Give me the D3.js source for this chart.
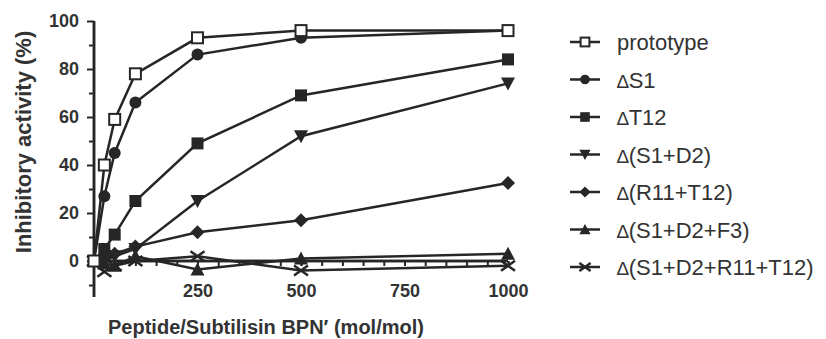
<!DOCTYPE html>
<html><head><meta charset="utf-8">
<script src="https://cdn.jsdelivr.net/npm/d3@7"></script>
<style>body{margin:0;background:#fff}svg{display:block}</style>
</head><body>
<svg id="c" width="826" height="339"></svg>
<script>
const xValues = [0, 25, 50, 100, 250, 500, 1000];
const seriesNames = ["prototype", "\u2206S1", "\u2206T12", "\u2206(S1+D2)", "\u2206(R11+T12)", "\u2206(S1+D2+F3)", "\u2206(S1+D2+R11+T12)"];
const prototype = [0, 40, 59, 78, 93, 96, 96];
const dS1 = [0, 27, 45, 66, 86, 93, 96];
const dT12 = [0, 5, 11, 25, 49, 69, 84];
const dS1D2 = [0, 0, 2, 5, 25, 52, 74];
const dR11T12 = [0, 1, 3, 6, 12, 17, 32.5];
const dS1D2F3 = [0, -1, -2, 2, -3.5, 1, 3];
const dS1D2R11T12 = [0, -4.5, -2, 0, 2, -4, -2];
const xTicks = [250, 500, 750, 1000];
const yTicks = [0, 20, 40, 60, 80, 100];
const markers = ["openSquare", "circle", "square", "triDown", "diamond", "triUp", "cross"];

const allSeries = [prototype, dS1, dT12, dS1D2, dR11T12, dS1D2F3, dS1D2R11T12];
const ink = "#262626";
const FONT = "Liberation Sans, Arial, sans-serif";
const svg = d3.select("#c");
const x = d3.scaleLinear().domain([0, 1000]).range([94, 508]);
const y = d3.scaleLinear().domain([-15, 100]).range([297, 21]);

// y axis
const yAxis = svg.append("g").attr("transform", "translate(94,0)");
yAxis.call(d3.axisLeft(y).tickValues(yTicks).tickSize(7).tickPadding(8));
yAxis.append("g").call(d3.axisLeft(y).tickValues(d3.range(-10, 100, 20)).tickSize(5).tickFormat(""));
yAxis.selectAll(".domain").attr("stroke", ink).attr("stroke-width", 2.5).attr("d", `M0,${y(-15)}V${y(100)}`);
yAxis.selectAll(".tick line").attr("stroke", ink).attr("stroke-width", 2);
yAxis.selectAll("text").attr("font-family", FONT).attr("font-weight", "bold").attr("font-size", 18).attr("fill", "#333");

// x axis at y=0
const xAxis = svg.append("g").attr("transform", `translate(0,${y(0)})`);
xAxis.append("g").call(d3.axisBottom(x).tickValues(d3.range(50, 1001, 50)).tickSize(5).tickFormat(""));
xAxis.append("g").call(d3.axisBottom(x).tickValues(xTicks).tickSize(5).tickPadding(18).tickFormat(d3.format("d")));
xAxis.selectAll(".domain").attr("stroke", ink).attr("stroke-width", 2.5).attr("d", `M${x(0)},0H${x(1000)}`);
xAxis.selectAll(".tick line").attr("stroke", ink).attr("stroke-width", 2);
xAxis.selectAll("text").attr("font-family", FONT).attr("font-weight", "bold").attr("font-size", 18).attr("fill", "#333");

// axis titles
svg.append("text").attr("x", 266).attr("y", 334).attr("text-anchor", "middle")
  .attr("font-family", FONT).attr("font-weight", "bold").attr("font-size", 20).attr("fill", "#333")
  .text("Peptide/Subtilisin BPN\u2032 (mol/mol)");
svg.append("text").attr("transform", "translate(31,142) rotate(-90)").attr("text-anchor", "middle")
  .attr("font-family", FONT).attr("font-weight", "bold").attr("font-size", 22).attr("fill", "#333")
  .text("Inhibitory activity (%)");

function drawMarker(g, type, cx, cy, sc) {
  const k = sc || 1;
  if (type === "openSquare") g.append("rect").attr("x", cx - 5.5*k).attr("y", cy - 5.5*k).attr("width", 11*k).attr("height", 11*k).attr("fill", "#fff").attr("stroke", ink).attr("stroke-width", 2);
  else if (type === "circle") g.append("circle").attr("cx", cx).attr("cy", cy).attr("r", 6*k).attr("fill", ink);
  else if (type === "square") g.append("rect").attr("x", cx - 6*k).attr("y", cy - 6*k).attr("width", 12*k).attr("height", 12*k).attr("fill", ink);
  else if (type === "triDown") g.append("path").attr("d", `M${cx-7*k},${cy-6*k}L${cx+7*k},${cy-6*k}L${cx},${cy+7*k}Z`).attr("fill", ink);
  else if (type === "triUp") g.append("path").attr("d", `M${cx-7*k},${cy+6*k}L${cx+7*k},${cy+6*k}L${cx},${cy-7*k}Z`).attr("fill", ink);
  else if (type === "diamond") g.append("path").attr("d", `M${cx},${cy-7*k}L${cx+7*k},${cy}L${cx},${cy+7*k}L${cx-7*k},${cy}Z`).attr("fill", ink);
  else if (type === "cross") g.append("path").attr("d", `M${cx-7*k},${cy-5*k}L${cx+7*k},${cy+5*k}M${cx-7*k},${cy+5*k}L${cx+7*k},${cy-5*k}`).attr("stroke", ink).attr("stroke-width", 2.5).attr("fill", "none");
}

const line = d3.line().x((d, i) => x(xValues[i])).y(d => y(d));
const plot = svg.append("g");
for (let k = allSeries.length - 1; k >= 0; k--) {
  const g = plot.append("g");
  g.append("path").datum(allSeries[k]).attr("d", line).attr("fill", "none").attr("stroke", ink).attr("stroke-width", 2.5);
  allSeries[k].forEach((v, i) => drawMarker(g, markers[k], x(xValues[i]), y(v)));
}

// legend
const leg = svg.append("g");
seriesNames.forEach((n, k) => {
  const ly = 42 + k * 37.5;
  leg.append("line").attr("x1", 570).attr("x2", 600).attr("y1", ly).attr("y2", ly).attr("stroke", ink).attr("stroke-width", 2.5);
  drawMarker(leg, markers[k], 585, ly, 0.8);
  const t = leg.append("text").attr("x", 617).attr("y", ly + 8).attr("font-family", FONT).attr("font-size", 22).attr("fill", "#333");
  if (n.startsWith("\u2206")) {
    t.append("tspan").attr("font-size", 19).text("\u2206");
    t.append("tspan").text(n.slice(1));
  } else t.text(n);
});
</script>
</body></html>
